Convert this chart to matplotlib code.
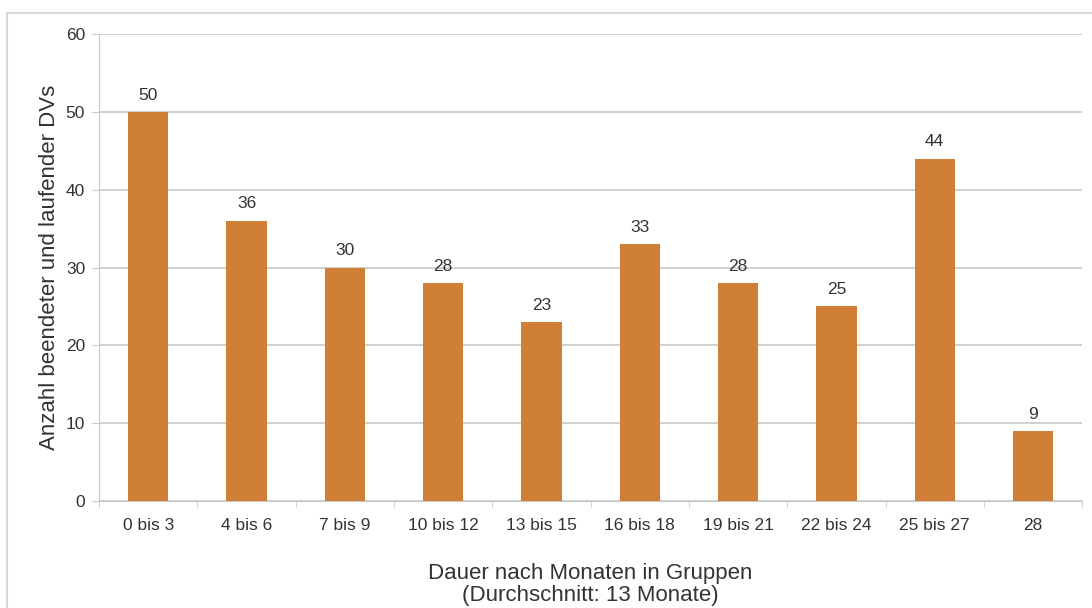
import matplotlib.pyplot as plt
from matplotlib.patches import Rectangle

categories = ["0 bis 3", "4 bis 6", "7 bis 9", "10 bis 12", "13 bis 15",
              "16 bis 18", "19 bis 21", "22 bis 24", "25 bis 27", "28"]
counts = [50, 36, 30, 28, 23, 33, 28, 25, 44, 9]

BAR = "#D07F36"
GRID = "#C8C8C8"
TEXT = "#333333"

plt.rcParams["font.family"] = ["Liberation Sans", "DejaVu Sans"]

fig = plt.figure(figsize=(10.92, 6.08), dpi=100)
ax = fig.add_axes([0.0907, 0.176, 0.9003, 0.768])

# outer chart frame
fig.patches.append(Rectangle((7 / 1092, -0.05), 1.1, 1 - 13 / 608 + 0.05,
                             transform=fig.transFigure, fill=False,
                             edgecolor="#D9D9D9", linewidth=1.5))

x = list(range(len(categories)))
ax.bar(x, counts, width=0.41, color=BAR, zorder=3)
for xi, v in zip(x, counts):
    ax.text(xi, v + 1.2, str(v), ha="center", va="bottom", fontsize=12.5, color=TEXT)

ax.set_xlim(-0.5, len(categories) - 0.5)
ax.set_ylim(0, 60)
ax.set_yticks(range(0, 61, 10))
ax.yaxis.grid(True, color=GRID, linewidth=1.2, zorder=0)
ax.set_xticks(x)
ax.set_xticklabels(categories)
ax.set_xticks([i - 0.5 for i in range(len(categories) + 1)], minor=True)
ax.tick_params(axis="x", which="major", length=0, pad=12, labelsize=12.5, labelcolor=TEXT)
ax.tick_params(axis="x", which="minor", length=4, color=GRID)
ax.tick_params(axis="y", length=5, color=GRID, pad=5, labelsize=12.5, labelcolor=TEXT)

for side in ("top", "right"):
    ax.spines[side].set_visible(False)
ax.spines["left"].set_color(GRID)
ax.spines["bottom"].set_color(GRID)

ax.set_xlabel("Dauer nach Monaten in Gruppen\n(Durchschnitt: 13 Monate)",
              fontsize=16, color=TEXT, labelpad=22, linespacing=1.05)
ax.set_ylabel("Anzahl beendeter und laufender DVs", fontsize=16, color=TEXT, labelpad=4)

fig.savefig("out.png", dpi=100)
